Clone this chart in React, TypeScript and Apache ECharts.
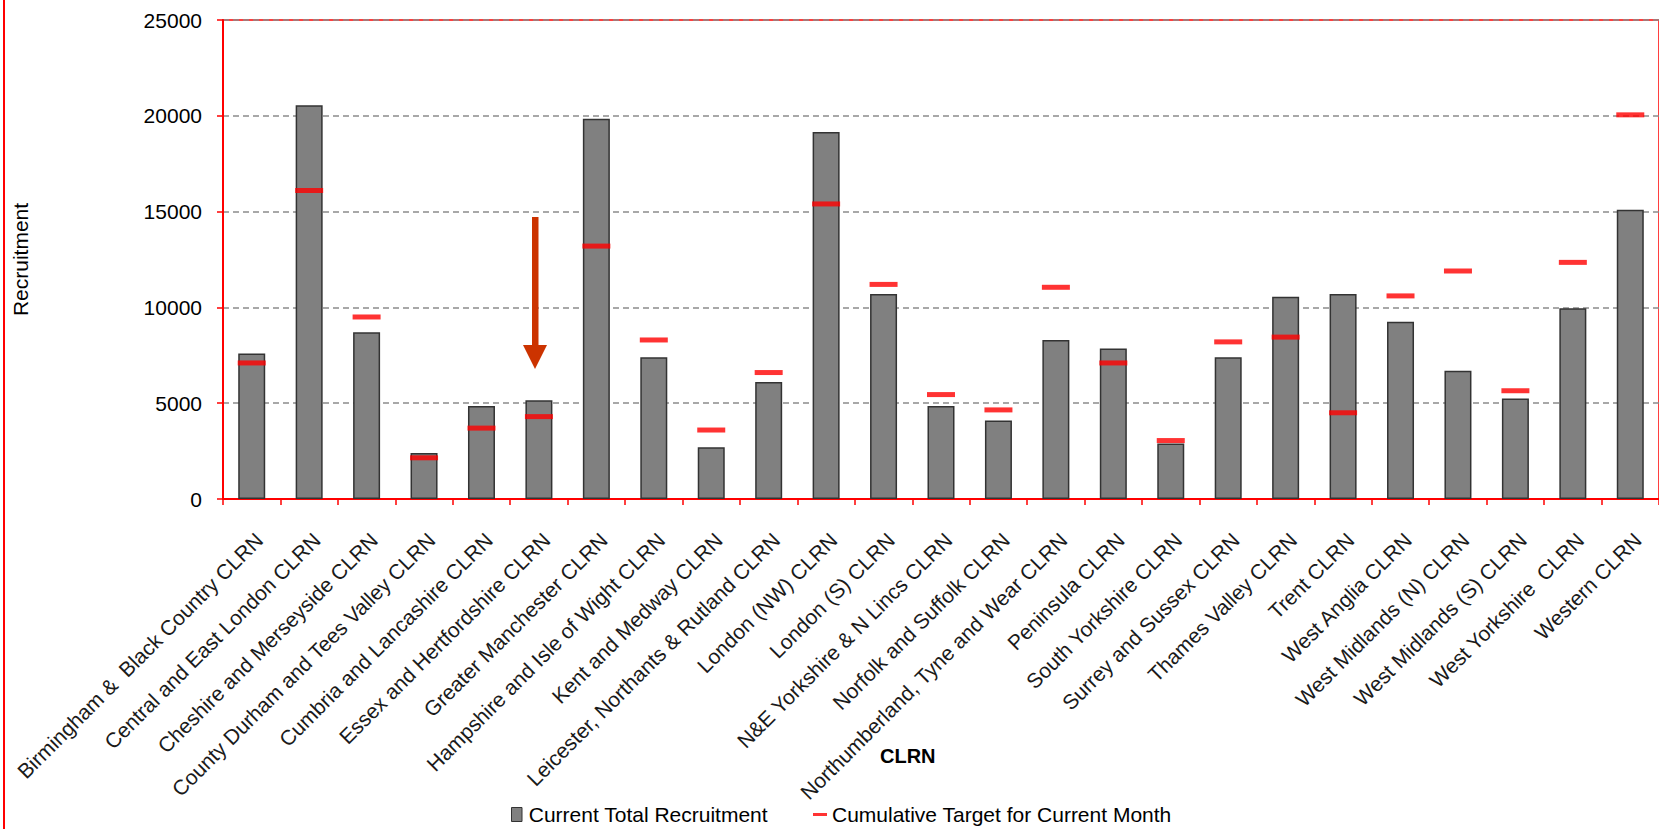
import React, { useEffect, useRef } from "react";
import * as echarts from "echarts";

const categories = [
  "Birmingham &  Black Country CLRN",
  "Central and East London CLRN",
  "Cheshire and Merseyside CLRN",
  "County Durham and Tees Valley CLRN",
  "Cumbria and Lancashire CLRN",
  "Essex and Hertfordshire CLRN",
  "Greater Manchester CLRN",
  "Hampshire and Isle of Wight CLRN",
  "Kent and Medway CLRN",
  "Leicester, Northants & Rutland CLRN",
  "London (NW) CLRN",
  "London (S) CLRN",
  "N&E Yorkshire & N Lincs CLRN",
  "Norfolk and Suffolk CLRN",
  "Northumberland, Tyne and Wear CLRN",
  "Peninsula CLRN",
  "South Yorkshire CLRN",
  "Surrey and Sussex CLRN",
  "Thames Valley CLRN",
  "Trent CLRN",
  "West Anglia CLRN",
  "West Midlands (N) CLRN",
  "West Midlands (S) CLRN",
  "West Yorkshire  CLRN",
  "Western CLRN",
];

const recruitment = [
  7600, 20550, 8700, 2400, 4850, 5150, 19850, 7400, 2700, 6100, 19150, 10700,
  4850, 4100, 8300, 7850, 2900, 7400, 10550, 10700, 9250, 6700, 5250, 9950,
  15100,
];

const target = [
  7100, 16100, 9500, 2150, 3700, 4300, 13200, 8300, 3600, 6600, 15400, 11200,
  5450, 4650, 11050, 7100, 3050, 8200, 8450, 4500, 10600, 11900, 5650, 12350,
  20050,
];

const yTicks = { min: 0, max: 25000, interval: 5000 };

const FONT = "'Liberation Sans', Arial, sans-serif";

export default function App() {
  const ref = useRef<HTMLDivElement>(null);

  useEffect(() => {
    if (!ref.current) return;
    const chart = echarts.init(ref.current, undefined, { renderer: "svg" });
    chart.setOption({
      animation: false,
      backgroundColor: "#ffffff",
      textStyle: { fontFamily: FONT },
      grid: {
        left: 223,
        top: 20,
        width: 1442,
        height: 479,
        show: true,
        borderColor: "#ff0000",
        borderWidth: 1.5,
        backgroundColor: "transparent",
      },
      legend: {
        left: 506,
        top: 799,
        itemGap: 45,
        itemWidth: 14,
        itemHeight: 14,
        textStyle: { fontFamily: FONT, fontSize: 21, color: "#000" },
        data: [
          {
            name: "Current Total Recruitment",
            icon: "path://M0,0h9v12h-9z",
            itemStyle: { color: "#808080", borderColor: "#333", borderWidth: 1 },
          },
          {
            name: "Cumulative Target for Current Month",
            icon: "path://M0,0h14v3h-14z",
            itemStyle: { color: "#ff0000", borderWidth: 0 },
          },
        ],
      },
      xAxis: {
        type: "category",
        data: categories,
        axisLine: { lineStyle: { color: "#ff0000", width: 2 } },
        axisTick: { show: true, length: 6, lineStyle: { color: "#ff0000", width: 1.5 } },
        axisLabel: {
          rotate: 45,
          interval: 0,
          margin: 30,
          verticalAlign: "top",
          fontFamily: FONT,
          fontSize: 21,
          color: "#1a1a1a",
        },
      },
      yAxis: {
        type: "value",
        min: yTicks.min,
        max: yTicks.max,
        interval: yTicks.interval,
        name: "Recruitment",
        nameLocation: "middle",
        nameRotate: 90,
        nameGap: 192,
        nameTextStyle: { fontFamily: FONT, fontSize: 21, color: "#000" },
        axisLine: { show: true, lineStyle: { color: "#ff0000", width: 2 } },
        axisTick: { show: true, length: 6, lineStyle: { color: "#ff0000", width: 1.5 } },
        axisLabel: {
          margin: 21,
          fontFamily: FONT,
          fontSize: 21,
          color: "#000",
          formatter: (v: number) => String(v),
        },
        splitLine: {
          show: true,
          lineStyle: { color: "#8c8c8c", type: [6, 4], width: 1.5 },
        },
      },
      series: [
        {
          name: "Current Total Recruitment",
          type: "bar",
          data: recruitment,
          barWidth: 27,
          itemStyle: { color: "#808080", borderColor: "#333333", borderWidth: 1.5 },
          z: 2,
        },
        {
          name: "Cumulative Target for Current Month",
          type: "scatter",
          data: target,
          symbol: "rect",
          symbolSize: [28, 5],
          itemStyle: { color: "#ff0000" },
          z: 3,
        },
      ],
      graphic: [
        {
          type: "line",
          shape: { x1: 4, y1: 0, x2: 4, y2: 829 },
          style: { stroke: "#ff0000", lineWidth: 2 },
        },
        {
          type: "text",
          left: 880,
          top: 746,
          style: {
            text: "CLRN",
            fontFamily: FONT,
            fontSize: 20,
            fontWeight: "bold",
            fill: "#000",
          },
        },
        {
          type: "rect",
          shape: { x: 532, y: 217, width: 6.5, height: 130 },
          style: { fill: "#cc3300" },
          z: 10,
        },
        {
          type: "polygon",
          shape: { points: [[523, 345], [547, 345], [535, 369]] },
          style: { fill: "#cc3300" },
          z: 10,
        },
      ],
    });
    return () => chart.dispose();
  }, []);

  return (
    <div
      ref={ref}
      style={{ position: "absolute", left: 0, top: 0, width: 1659, height: 829 }}
    />
  );
}
